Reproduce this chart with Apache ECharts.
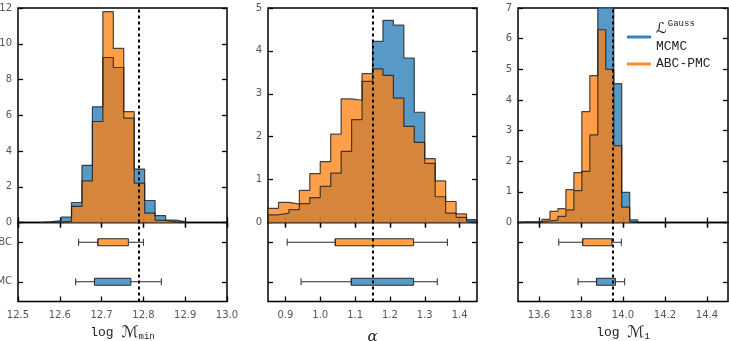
<!DOCTYPE html>
<html>
<head>
<meta charset="utf-8">
<script src="https://cdn.jsdelivr.net/npm/echarts@6/dist/echarts.min.js"></script>
<style>
html, body { margin: 0; padding: 0; background: #fff; }
#chart { width: 729px; height: 341px; }
</style>
</head>
<body>
<div id="chart"></div>
<script>
// 直方图数据 (bin edges + densities)
const mminEdges = [12.553, 12.578, 12.603, 12.628, 12.653, 12.678, 12.703, 12.728, 12.753, 12.778, 12.803, 12.828, 12.853, 12.878, 12.903];
const mminMcmc = [0.04, 0.1, 0.3, 1.12, 3.2, 6.47, 9.23, 8.67, 5.84, 2.99, 1.23, 0.39, 0.13, 0.03];
const mminAbc = [0, 0.02, 0.06, 0.9, 2.33, 5.65, 11.8, 9.74, 6.2, 2.2, 0.52, 0.12, 0.03, 0];

const alphaEdges = [0.85, 0.88, 0.91, 0.94, 0.97, 1.0, 1.03, 1.06, 1.09, 1.12, 1.15, 1.18, 1.21, 1.24, 1.27, 1.3, 1.33, 1.36, 1.39, 1.42, 1.45];
const alphaMcmc = [0.18, 0.22, 0.3, 0.44, 0.58, 0.84, 1.15, 1.66, 2.4, 3.29, 4.22, 4.71, 4.6, 3.83, 2.57, 1.38, 0.6, 0.22, 0.12, 0.07];
const alphaAbc = [0.33, 0.47, 0.43, 0.75, 1.14, 1.42, 2.06, 2.88, 2.85, 3.47, 3.58, 3.43, 2.9, 2.24, 1.87, 1.49, 0.97, 0.49, 0.2, 0.03];

const m1Edges = [13.5, 13.538, 13.576, 13.614, 13.652, 13.69, 13.728, 13.766, 13.804, 13.842, 13.88, 13.918, 13.956, 13.994, 14.032, 14.07];
const m1Mcmc = [0.02, 0.02, 0.03, 0.05, 0.08, 0.2, 0.41, 1.04, 1.67, 2.86, 7.8, 7.5, 4.53, 0.98, 0.09];
const m1Abc = [0, 0, 0.01, 0.1, 0.36, 0.45, 1.07, 1.63, 3.62, 4.79, 6.29, 5.0, 2.51, 0.5, 0.02];

// 箱线图 [min, q1, median, q3, max]
const boxCategories = ['MCMC', 'ABC'];
const mminBoxMcmc = [12.638, 12.683, 12.683, 12.77, 12.843];
const mminBoxAbc = [12.645, 12.691, 12.691, 12.764, 12.8];
const alphaBoxMcmc = [0.945, 1.089, 1.089, 1.268, 1.336];
const alphaBoxAbc = [0.905, 1.043, 1.043, 1.268, 1.365];
const m1BoxMcmc = [13.786, 13.874, 13.874, 13.964, 14.008];
const m1BoxAbc = [13.694, 13.808, 13.808, 13.947, 13.992];

// 真值 (虚线)
const truth = [12.79, 1.15, 13.95];

// 刻度
const mminTicks = [12.5, 12.6, 12.7, 12.8, 12.9, 13.0];
const alphaTicks = [0.9, 1.0, 1.1, 1.2, 1.3, 1.4];
const m1Ticks = [13.6, 13.8, 14.0, 14.2, 14.4];

const blueFill = 'rgba(31,119,180,0.75)';
const orangeFill = 'rgba(255,127,14,0.75)';
const edgeColor = 'rgba(30,30,30,0.8)';
const labelColor = '#555';

function stepData(edges, vals) {
    let pts = [[edges[0], 0]];
    vals.forEach((v, i) => pts.push([edges[i], v]));
    pts.push([edges[edges.length - 1], 0]);
    return pts;
}

const panels = [
    { left: 18, width: 209, xMin: 12.5, xMax: 13.0, ticks: mminTicks, yMax: 12, yStep: 2,
      edges: mminEdges, mcmc: mminMcmc, abc: mminAbc, boxMcmc: mminBoxMcmc, boxAbc: mminBoxAbc,
      truth: truth[0], name: '{t|log }{m|ℳ}{s|min}', showCat: true },
    { left: 268, width: 209, xMin: 0.85, xMax: 1.45, ticks: alphaTicks, yMax: 5, yStep: 1,
      edges: alphaEdges, mcmc: alphaMcmc, abc: alphaAbc, boxMcmc: alphaBoxMcmc, boxAbc: alphaBoxAbc,
      truth: truth[1], name: '{a|α}', showCat: false },
    { left: 518, width: 210, xMin: 13.5, xMax: 14.5, ticks: m1Ticks, yMax: 7, yStep: 1,
      edges: m1Edges, mcmc: m1Mcmc, abc: m1Abc, boxMcmc: m1BoxMcmc, boxAbc: m1BoxAbc,
      truth: truth[2], name: '{t|log }{m|ℳ}{s|1}', showCat: false }
];

const tickStyle = { color: '#000', width: 1.3 };
const nameRich = {
    t: { fontFamily: 'Liberation Mono', fontSize: 13, color: '#222' },
    m: { fontFamily: 'DejaVu Sans', fontSize: 16, color: '#222' },
    s: { fontFamily: 'Liberation Mono', fontSize: 9, color: '#222', padding: [9, 0, 0, 0] },
    a: { fontFamily: 'DejaVu Serif', fontStyle: 'italic', fontSize: 15, color: '#222', padding: [6, 0, 0, 0] }
};

let grid = [], xAxis = [], yAxis = [], series = [];

panels.forEach((p, i) => {
    grid.push({ left: p.left, top: 8, width: p.width, height: 214.5, show: true, borderColor: '#000', borderWidth: 1.5, outerBoundsMode: 'none', containLabel: false });
    grid.push({ left: p.left, top: 222.5, width: p.width, height: 79, show: true, borderColor: '#000', borderWidth: 1.5, outerBoundsMode: 'none', containLabel: false });

    const valueX = (gi, pos, labels) => ({
        type: 'value', gridIndex: gi, position: pos, min: p.xMin, max: p.xMax,
        axisLine: { show: false }, splitLine: { show: false },
        axisTick: { show: true, inside: true, length: 5, lineStyle: tickStyle, customValues: p.ticks },
        axisLabel: labels ? {
            show: true, customValues: p.ticks, margin: 9, fontFamily: 'DejaVu Sans', fontSize: 10, color: labelColor,
            formatter: v => v.toFixed(1)
        } : { show: false }
    });
    // 0: 直方图下, 1: 直方图上, 2: 箱线图下, 3: 箱线图上
    xAxis.push(valueX(2 * i, 'bottom', false));
    xAxis.push(valueX(2 * i, 'top', false));
    let bx = valueX(2 * i + 1, 'bottom', true);
    bx.name = p.name;
    bx.nameLocation = 'middle';
    bx.nameGap = 22;
    bx.nameTextStyle = { rich: nameRich };
    xAxis.push(bx);
    xAxis.push(valueX(2 * i + 1, 'top', false));

    const valueY = (pos, labels) => ({
        type: 'value', gridIndex: 2 * i, position: pos, min: 0, max: p.yMax, interval: p.yStep,
        axisLine: { show: false }, splitLine: { show: false },
        axisTick: { show: true, inside: true, length: 5, lineStyle: tickStyle },
        axisLabel: labels ? { show: true, margin: 6, fontFamily: 'DejaVu Sans', fontSize: 10, color: labelColor } : { show: false }
    });
    yAxis.push(valueY('left', true));
    yAxis.push(valueY('right', false));
    const catY = (pos, labels) => ({
        type: 'category', gridIndex: 2 * i + 1, position: pos, data: boxCategories,
        axisLine: { show: false }, splitLine: { show: false },
        axisTick: { show: true, inside: true, length: 5, alignWithLabel: true, lineStyle: tickStyle },
        axisLabel: labels ? { show: true, margin: 6, fontFamily: 'DejaVu Sans', fontSize: 10, color: labelColor } : { show: false }
    });
    yAxis.push(catY('left', p.showCat));
    yAxis.push(catY('right', false));

    const truthLine = {
        silent: true, symbol: 'none', label: { show: false },
        lineStyle: { color: '#000', type: [3, 3], width: 2 },
        data: [{ xAxis: p.truth }]
    };

    series.push({
        name: 'MCMC', type: 'line', xAxisIndex: 4 * i, yAxisIndex: 4 * i,
        data: stepData(p.edges, p.mcmc), step: 'end', symbol: 'none', color: blueFill,
        lineStyle: { color: edgeColor, width: 1.2 }, areaStyle: { color: blueFill, opacity: 1 }
    });
    series.push({
        name: 'ABC-PMC', type: 'line', xAxisIndex: 4 * i, yAxisIndex: 4 * i,
        data: stepData(p.edges, p.abc), step: 'end', symbol: 'none', color: orangeFill,
        lineStyle: { color: edgeColor, width: 1.2 }, areaStyle: { color: orangeFill, opacity: 1 },
        markLine: truthLine
    });
    series.push({
        type: 'boxplot', xAxisIndex: 4 * i + 2, yAxisIndex: 4 * i + 2, boxWidth: [7, 7],
        itemStyle: { borderColor: '#2a2a2a', borderWidth: 1 },
        data: [
            { value: p.boxMcmc, itemStyle: { color: blueFill } },
            { value: p.boxAbc, itemStyle: { color: orangeFill } }
        ],
        markLine: truthLine
    });
});

let myChart = echarts.init(document.getElementById('chart'));
let option = {
    animation: false,
    backgroundColor: '#fff',
    grid: grid,
    xAxis: xAxis,
    yAxis: yAxis,
    legend: {
        orient: 'vertical', left: 622, top: 14, itemGap: 4, itemWidth: 24, itemHeight: 3,
        selectedMode: false,
        data: [
            { name: 'MCMC', icon: 'rect', itemStyle: { color: 'rgba(31,119,180,0.9)', borderWidth: 0 } },
            { name: 'ABC-PMC', icon: 'rect', itemStyle: { color: 'rgba(255,127,14,0.9)', borderWidth: 0 } }
        ],
        formatter: function(name) {
            return name === 'MCMC' ? '{cal|ℒ}{sup|Gauss}\n{t|MCMC}' : '{t|ABC-PMC}';
        },
        textStyle: {
            rich: {
                cal: { fontFamily: 'DejaVu Sans', fontSize: 15, lineHeight: 20, color: '#222' },
                sup: { fontFamily: 'Liberation Mono', fontSize: 9, lineHeight: 12, color: '#222', verticalAlign: 'top', padding: [0, 0, 0, 1] },
                t: { fontFamily: 'Liberation Mono', fontSize: 13, lineHeight: 16, color: '#222' }
            }
        }
    },
    series: series
};
myChart.setOption(option);
</script>
</body>
</html>
